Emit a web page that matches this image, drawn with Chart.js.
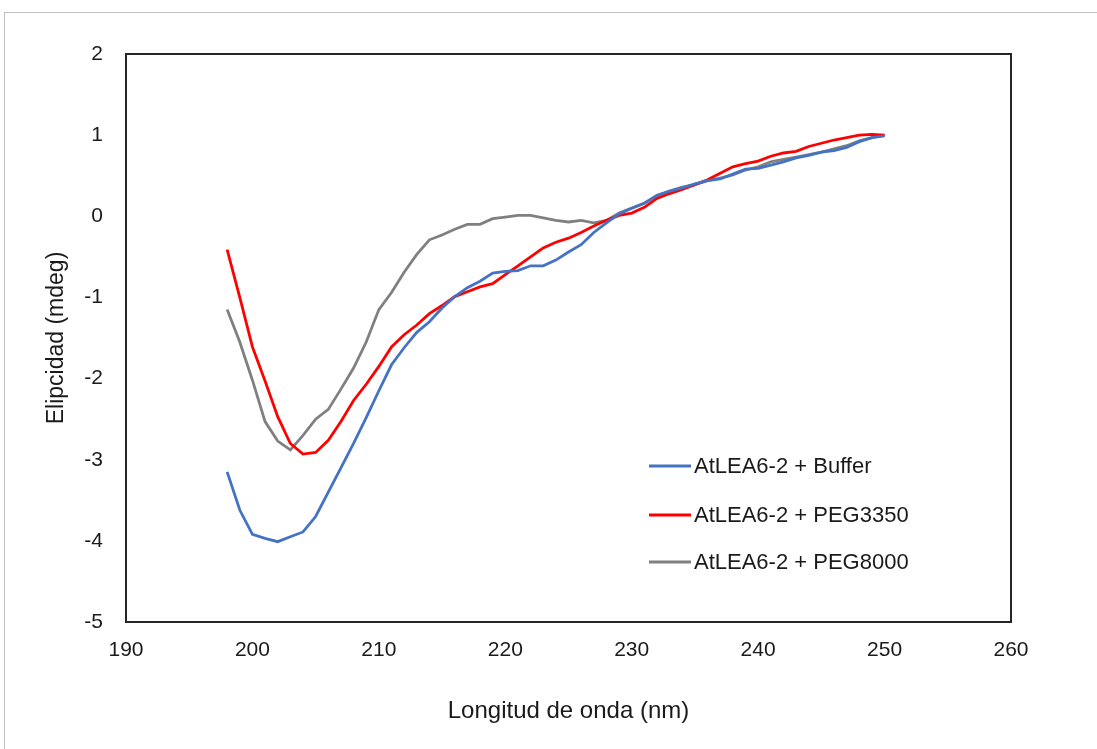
<!DOCTYPE html>
<html>
<head>
<meta charset="utf-8">
<script src="https://cdn.jsdelivr.net/npm/chart.js@4.4.0/dist/chart.umd.min.js"></script>
<style>
  html, body { margin: 0; padding: 0; background: #fff; }
  #wrap { position: relative; width: 1097px; height: 749px; }
  #frame { position: absolute; left: 4px; top: 12px; width: 1200px; height: 800px;
           border-left: 1.5px solid #c0c0c0; border-top: 1.5px solid #c0c0c0; pointer-events: none; }
  canvas { position: absolute; left: 0; top: 0; }
</style>
</head>
<body>
<div id="wrap">
  <canvas id="c" width="1097" height="749"></canvas>
  <div id="frame"></div>
</div>
<script>
// Wavelengths (nm)
const wavelengths = [198,199,200,201,202,203,204,205,206,207,208,209,210,211,212,213,214,215,216,217,218,219,220,221,222,223,224,225,226,227,228,229,230,231,232,233,234,235,236,237,238,239,240,241,242,243,244,245,246,247,248,249,250];

const seriesLabels = ["AtLEA6-2 + Buffer", "AtLEA6-2 + PEG3350", "AtLEA6-2 + PEG8000"];

const bufferValues = [-3.15,-3.62,-3.92,-3.97,-4.01,-3.95,-3.89,-3.70,-3.40,-3.10,-2.80,-2.48,-2.15,-1.83,-1.62,-1.43,-1.30,-1.13,-0.99,-0.88,-0.80,-0.70,-0.68,-0.67,-0.61,-0.61,-0.54,-0.44,-0.35,-0.20,-0.08,0.03,0.10,0.16,0.26,0.31,0.35,0.40,0.44,0.46,0.52,0.58,0.59,0.63,0.67,0.72,0.75,0.79,0.81,0.85,0.92,0.97,0.99];

const peg3350Values = [-0.41,-1.00,-1.61,-2.03,-2.47,-2.80,-2.93,-2.91,-2.76,-2.53,-2.27,-2.07,-1.85,-1.61,-1.46,-1.34,-1.20,-1.10,-0.99,-0.93,-0.87,-0.83,-0.72,-0.61,-0.50,-0.39,-0.32,-0.27,-0.20,-0.12,-0.05,0.01,0.04,0.11,0.22,0.28,0.33,0.39,0.45,0.53,0.61,0.65,0.68,0.74,0.78,0.80,0.86,0.90,0.94,0.97,1.00,1.01,1.00];

const peg8000Values = [-1.15,-1.55,-2.02,-2.53,-2.77,-2.88,-2.70,-2.50,-2.38,-2.13,-1.87,-1.55,-1.15,-0.94,-0.69,-0.47,-0.29,-0.23,-0.16,-0.10,-0.10,-0.03,-0.01,0.01,0.01,-0.02,-0.05,-0.07,-0.05,-0.08,-0.05,0.04,0.10,0.16,0.25,0.31,0.36,0.39,0.44,0.47,0.51,0.57,0.61,0.67,0.70,0.73,0.76,0.79,0.83,0.87,0.93,0.97,1.00];

const xTicks = [190,200,210,220,230,240,250,260];
const yTicks = [-5,-4,-3,-2,-1,0,1,2];

const FONT = "'Liberation Sans', Arial, sans-serif";
const colors = ["#4472C4", "#FF0000", "#808080"];
const allValues = [bufferValues, peg3350Values, peg8000Values];

const toPoints = vals => wavelengths.map((w, i) => ({ x: w, y: vals[i] }));

const plotBorder = {
  id: 'plotBorder',
  afterDatasetsDraw(chart) {
    const { ctx, chartArea: a } = chart;
    ctx.save();
    ctx.strokeStyle = '#262626';
    ctx.lineWidth = 2;
    ctx.strokeRect(a.left, a.top, a.right - a.left, a.bottom - a.top);
    ctx.restore();
  }
};

const innerLegend = {
  id: 'innerLegend',
  afterDraw(chart) {
    const { ctx, chartArea: a } = chart;
    const x0 = a.left + 523, x1 = a.left + 565, tx = a.left + 568;
    const rows = [a.top + 412, a.top + 461, a.top + 508];
    ctx.save();
    ctx.font = "22px " + FONT;
    ctx.textBaseline = 'middle';
    ctx.textAlign = 'left';
    chart.data.datasets.forEach((ds, i) => {
      ctx.strokeStyle = ds.borderColor;
      ctx.lineWidth = 2.8;
      ctx.beginPath();
      ctx.moveTo(x0, rows[i]);
      ctx.lineTo(x1, rows[i]);
      ctx.stroke();
      ctx.fillStyle = '#1a1a1a';
      ctx.fillText(ds.label, tx, rows[i] + 1);
    });
    ctx.restore();
  }
};

new Chart(document.getElementById('c'), {
  type: 'line',
  data: {
    datasets: seriesLabels.map((lab, i) => ({
      label: lab,
      data: toPoints(allValues[i]),
      borderColor: colors[i],
      backgroundColor: colors[i],
      borderWidth: 2.8,
      pointRadius: 0,
      tension: 0,
      fill: false
    }))
  },
  options: {
    responsive: false,
    animation: false,
    devicePixelRatio: 1,
    layout: { padding: { left: 0, top: 54, right: 86, bottom: 0 } },
    plugins: { legend: { display: false }, tooltip: { enabled: false } },
    scales: {
      x: {
        type: 'linear',
        min: 190, max: 260,
        afterFit(s) { s.height = 127; },
        afterBuildTicks(s) { s.ticks = xTicks.map(v => ({ value: v })); },
        grid: { display: false, drawTicks: false },
        border: { display: false },
        ticks: { padding: 16, color: '#1a1a1a', font: { family: FONT, size: 21 } },
        title: { display: true, text: 'Longitud de onda (nm)', color: '#1a1a1a',
                 font: { family: FONT, size: 24 }, padding: { bottom: 23, top: 0 } }
      },
      y: {
        type: 'linear',
        min: -5, max: 2,
        afterFit(s) { s.width = 126; },
        afterBuildTicks(s) { s.ticks = yTicks.map(v => ({ value: v })); },
        grid: { display: false, drawTicks: false },
        border: { display: false },
        ticks: { padding: 23, color: '#1a1a1a', font: { family: FONT, size: 21 } },
        title: { display: true, text: 'Elipcidad (mdeg)', color: '#1a1a1a',
                 font: { family: FONT, size: 23 }, padding: { top: 43, bottom: 0 } }
      }
    }
  },
  plugins: [plotBorder, innerLegend]
});
</script>
</body>
</html>
